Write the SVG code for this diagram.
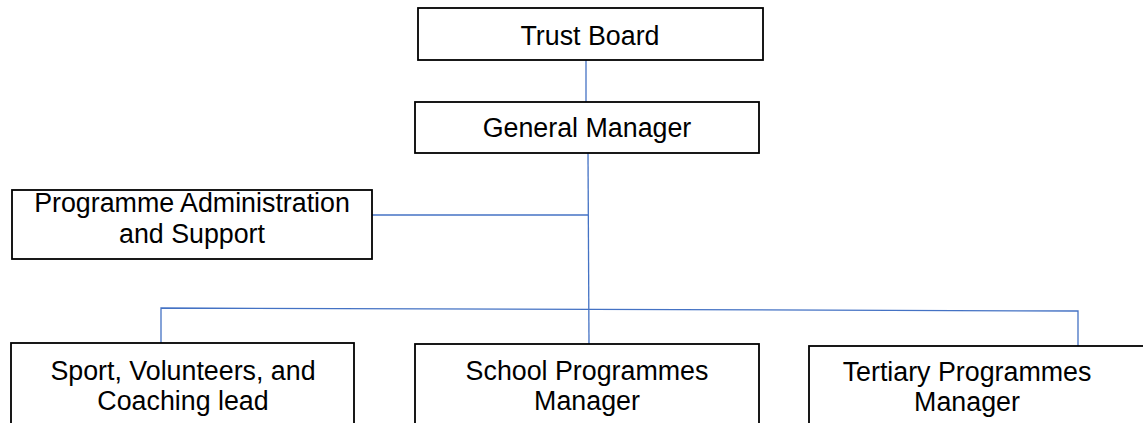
<svg xmlns="http://www.w3.org/2000/svg" width="1143" height="423" viewBox="0 0 1143 423">
<style>
.box{fill:#fff;stroke:#000;stroke-width:1.8}
.lbl{font-family:"Liberation Sans",Arial,sans-serif;font-size:26.8px;fill:#000;text-anchor:middle}
.con{stroke:#4472C4;stroke-width:1.3;fill:none}
</style>
<rect width="1143" height="423" fill="#fff"/>
<g id="connectors">
<line class="con" x1="586" y1="60" x2="586" y2="102"/>
<line class="con" x1="588" y1="153" x2="589" y2="344"/>
<line class="con" x1="372" y1="215" x2="588" y2="215"/>
<polyline class="con" points="161,343 161,308 1078,311 1078,346"/>
</g>
<g id="trust-board">
<rect class="box" x="418" y="8" width="345" height="52"/>
<text class="lbl" x="590" y="45">Trust Board</text>
</g>
<g id="general-manager">
<rect class="box" x="415" y="102" width="344" height="51"/>
<text class="lbl" x="587" y="137">General Manager</text>
</g>
<g id="programme-admin">
<rect class="box" x="12" y="190" width="360" height="69"/>
<text class="lbl" x="192" y="212">Programme Administration</text>
<text class="lbl" x="192" y="243">and Support</text>
</g>
<g id="sport-lead">
<rect class="box" x="11" y="343" width="343" height="100"/>
<text class="lbl" x="183" y="380">Sport, Volunteers, and</text>
<text class="lbl" x="183" y="410">Coaching lead</text>
</g>
<g id="school-manager">
<rect class="box" x="415" y="344" width="344" height="100"/>
<text class="lbl" x="587" y="380">School Programmes</text>
<text class="lbl" x="587" y="410">Manager</text>
</g>
<g id="tertiary-manager">
<rect class="box" x="809" y="346" width="360" height="100"/>
<text class="lbl" x="967" y="381">Tertiary Programmes</text>
<text class="lbl" x="967" y="411">Manager</text>
</g>
</svg>
